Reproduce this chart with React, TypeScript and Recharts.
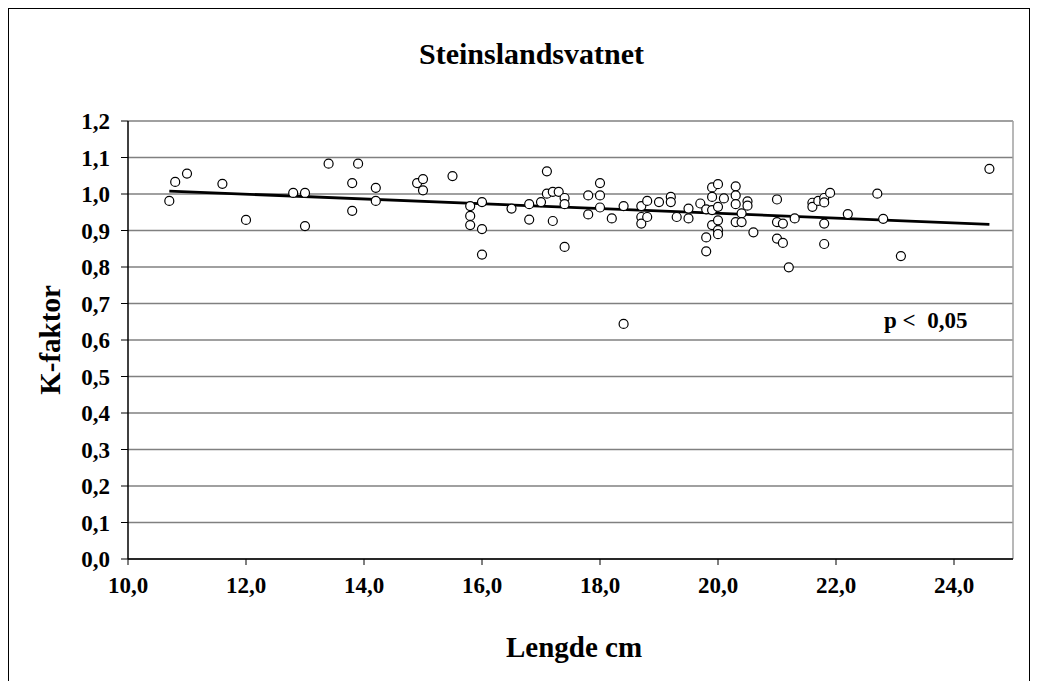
import React from 'react';
import {
  ScatterChart,
  Scatter,
  XAxis,
  YAxis,
  CartesianGrid,
  ReferenceLine,
} from 'recharts';

// Lengde (cm) and K-faktor per fish
const lengthCm = [
  10.7, 10.8, 11.0, 11.6, 12.0, 12.8, 13.0, 13.0, 13.4, 13.9, 13.8, 13.8, 14.2,
  14.2, 14.9, 15.0, 15.0, 15.5, 15.8, 15.8, 15.8, 16.0, 16.0, 16.0, 16.5, 16.8,
  16.8, 17.0, 17.1, 17.1, 17.2, 17.3, 17.2, 17.4, 17.4, 17.4, 17.8, 17.8, 18.0,
  18.0, 18.0, 18.2, 18.4, 18.4, 18.7, 18.7, 18.7, 18.8, 18.8, 19.0, 19.2, 19.2,
  19.3, 19.5, 19.5, 19.7, 19.8, 19.8, 19.8, 19.9, 19.9, 19.9, 19.9, 20.0, 20.0,
  20.0, 20.0, 20.0, 20.1, 20.3, 20.3, 20.3, 20.3, 20.4, 20.4, 20.5, 20.5, 20.6,
  21.0, 21.0, 21.0, 21.1, 21.1, 21.2, 21.3, 21.6, 21.6, 21.7, 21.8, 21.8, 21.8,
  21.8, 21.9, 22.2, 22.7, 22.8, 23.1, 24.6,
];
const kFactor = [
  0.981, 1.033, 1.056, 1.028, 0.929, 1.003, 1.003, 0.912, 1.083, 1.083, 1.03,
  0.954, 1.017, 0.981, 1.03, 1.041, 1.01, 1.049, 0.967, 0.94, 0.915, 0.978,
  0.904, 0.834, 0.96, 0.972, 0.93, 0.978, 1.062, 1.001, 1.006, 1.006, 0.926,
  0.989, 0.972, 0.855, 0.996, 0.944, 1.03, 0.996, 0.963, 0.933, 0.967, 0.644,
  0.967, 0.937, 0.919, 0.981, 0.937, 0.978, 0.992, 0.978, 0.937, 0.96, 0.933,
  0.974, 0.958, 0.881, 0.843, 1.018, 0.992, 0.956, 0.915, 1.027, 0.965, 0.928,
  0.901, 0.89, 0.988, 1.021, 0.996, 0.972, 0.923, 0.947, 0.923, 0.98, 0.968,
  0.895, 0.985, 0.923, 0.878, 0.919, 0.866, 0.799, 0.933, 0.976, 0.965, 0.981,
  0.989, 0.977, 0.919, 0.863, 1.003, 0.945, 1.001, 0.932, 0.83, 1.069,
];

// linear trend line end points
const trendX = [10.7, 24.6];
const trendY = [1.008, 0.917];

const xTicks = [10, 12, 14, 16, 18, 20, 22, 24];
const yTicks = [0, 0.1, 0.2, 0.3, 0.4, 0.5, 0.6, 0.7, 0.8, 0.9, 1.0, 1.1, 1.2];

const points = lengthCm.map((x, i) => ({ x, y: kFactor[i] }));
const trend = trendX.map((x, i) => ({ x, y: trendY[i] }));

const font = '"Liberation Serif", "Times New Roman", serif';
const tickStyle = { fill: '#000', fontSize: 23, fontWeight: 'bold', fontFamily: font };
const comma = (v: number) => v.toFixed(1).replace('.', ',');

const Ring = (props: any) => (
  <circle cx={props.cx} cy={props.cy} r={4.5} fill='#fff' stroke='#000' strokeWidth={1.2} />
);

const App: React.FC = () => {
  return (
    <div
      style={{
        position: 'relative',
        width: 1020,
        height: 680,
        border: '1px solid #000',
        borderBottom: 'none',
        background: '#fff',
        fontFamily: font,
        fontWeight: 'bold',
      }}
    >
      <div style={{ position: 'absolute', left: 0, width: 1045, top: 28, textAlign: 'center', fontSize: 30 }}>
        Steinslandsvatnet
      </div>
      <div
        style={{
          position: 'absolute',
          left: 41,
          top: 331,
          fontSize: 29,
          transform: 'translate(-50%, -50%) rotate(-90deg)',
          whiteSpace: 'nowrap',
        }}
      >
        K-faktor
      </div>
      <div style={{ position: 'absolute', left: 0, width: 1130, top: 622, textAlign: 'center', fontSize: 29 }}>
        Lengde cm
      </div>
      <div style={{ position: 'absolute', left: 875, top: 299, fontSize: 23, whiteSpace: 'pre' }}>
        p {'<'}  0,05
      </div>
      <ScatterChart
        width={1020}
        height={672}
        margin={{ top: 112, right: 16, left: 0, bottom: 20 }}
        style={{ position: 'absolute', left: 0, top: 0 }}
      >
        <CartesianGrid horizontal vertical={false} stroke='#808080' strokeWidth={1.3} />
        <XAxis
          type='number'
          dataKey='x'
          domain={[10, 25]}
          ticks={xTicks}
          allowDataOverflow
          tickFormatter={comma}
          tick={tickStyle}
          tickSize={6}
          tickMargin={12}
          height={102}
          axisLine={{ stroke: '#000', strokeWidth: 1.5 }}
          tickLine={{ stroke: '#000' }}
        />
        <YAxis
          type='number'
          dataKey='y'
          domain={[0, 1.2]}
          ticks={yTicks}
          tickFormatter={comma}
          tick={tickStyle}
          tickSize={7}
          tickMargin={11}
          width={119}
          axisLine={{ stroke: '#000', strokeWidth: 1.5 }}
          tickLine={{ stroke: '#000' }}
        />
        <ReferenceLine x={25} stroke='#a0a0a0' strokeWidth={1.5} />
        <Scatter
          data={trend}
          line={{ stroke: '#000', strokeWidth: 2.8 }}
          shape={() => <g />}
          isAnimationActive={false}
        />
        <Scatter data={points} shape={Ring} isAnimationActive={false} />
      </ScatterChart>
    </div>
  );
};

export default App;
